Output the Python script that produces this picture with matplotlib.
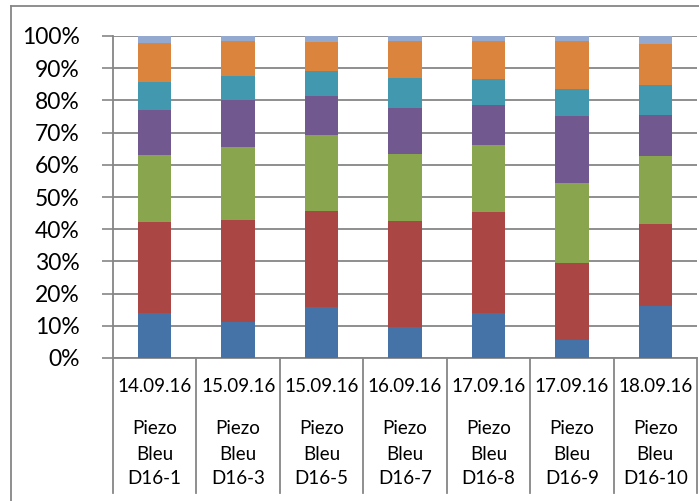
import matplotlib
matplotlib.use("Agg")
import matplotlib.pyplot as plt
import matplotlib.transforms as mtransforms
from matplotlib.lines import Line2D
import numpy as np

plt.rcParams['font.family'] = ['Lato', 'DejaVu Sans']

dates = ["14.09.16", "15.09.16", "15.09.16", "16.09.16", "17.09.16", "17.09.16", "18.09.16"]
sites = ["D16-1", "D16-3", "D16-5", "D16-7", "D16-8", "D16-9", "D16-10"]

s1 = [14.0, 11.2, 15.8, 9.6, 14.0, 5.7, 16.0]
s2 = [28.1, 31.7, 30.0, 33.1, 31.2, 23.8, 25.5]
s3 = [20.9, 22.7, 23.3, 20.5, 21.0, 24.8, 21.3]
s4 = [14.1, 14.4, 12.4, 14.3, 12.3, 20.8, 12.8]
s5 = [8.5, 7.5, 7.5, 9.4, 8.2, 8.3, 9.2]
s6 = [12.2, 10.8, 9.1, 11.4, 11.6, 14.9, 12.6]
s7 = [2.2, 1.7, 1.9, 1.7, 1.7, 1.7, 2.6]

series = [s1, s2, s3, s4, s5, s6, s7]
colors = ["#4572A7", "#AA4643", "#89A54E", "#71588F", "#4198AF", "#DB843D", "#93A9CF"]

W, H = 699, 501
fig = plt.figure(figsize=(W / 100, H / 100), dpi=100)
fig.patch.set_facecolor("white")

L, R, T, B = 113, 697, 36, 358
ax = fig.add_axes([L / W, 1 - B / H, (R - L) / W, (B - T) / H])

n = len(dates)
x = np.arange(n)
data = np.array(series, dtype=float)
data = data / data.sum(axis=0) * 100
bottom = np.zeros(n)
for vals, c in zip(data, colors):
    ax.bar(x, vals, width=0.4, bottom=bottom, color=c, edgecolor="none", zorder=3)
    bottom += vals

ax.set_xlim(-0.5, n - 0.5)
ax.set_ylim(0, 100)
ax.set_yticks(np.arange(0, 101, 10))
ax.set_yticklabels([f"{v}%" for v in range(0, 101, 10)], fontsize=16.5)
ax.tick_params(axis="y", length=8, width=1.2, color="#868686", pad=16)
ax.tick_params(axis="x", length=0, labelbottom=False)
ax.yaxis.grid(True, color="#868686", linewidth=1.3, zorder=0)
ax.set_axisbelow(True)
for sp in ["top", "right"]:
    ax.spines[sp].set_visible(False)
for sp in ["left", "bottom"]:
    ax.spines[sp].set_color("#868686")
    ax.spines[sp].set_linewidth(1.3)

trans = mtransforms.blended_transform_factory(ax.transData, ax.transAxes)
hpx = B - T
def yf(py):
    return (B - py) / hpx

# category separators and extended left axis
for b in np.arange(-0.5, n, 1.0):
    ax.add_line(Line2D([b, b], [0, yf(493)], transform=trans, color="#868686",
                       linewidth=1.3, clip_on=False))

for i in range(n):
    ax.text(x[i], yf(387), dates[i], transform=trans, ha="center", va="center", fontsize=13.5)
    ax.text(x[i], yf(428), "Piezo", transform=trans, ha="center", va="center", fontsize=13.5)
    ax.text(x[i], yf(454), "Bleu", transform=trans, ha="center", va="center", fontsize=13.5)
    ax.text(x[i], yf(479), sites[i], transform=trans, ha="center", va="center", fontsize=13.5)

# outer chart border (cropped on right/bottom)
fig.add_artist(Line2D([11 / W, 11 / W], [0, 1 - 6 / H], transform=fig.transFigure,
                      color="#868686", linewidth=1.3))
fig.add_artist(Line2D([11 / W, 1], [1 - 6 / H, 1 - 6 / H], transform=fig.transFigure,
                      color="#868686", linewidth=1.3))

fig.savefig("out.png", dpi=100, facecolor="white")
